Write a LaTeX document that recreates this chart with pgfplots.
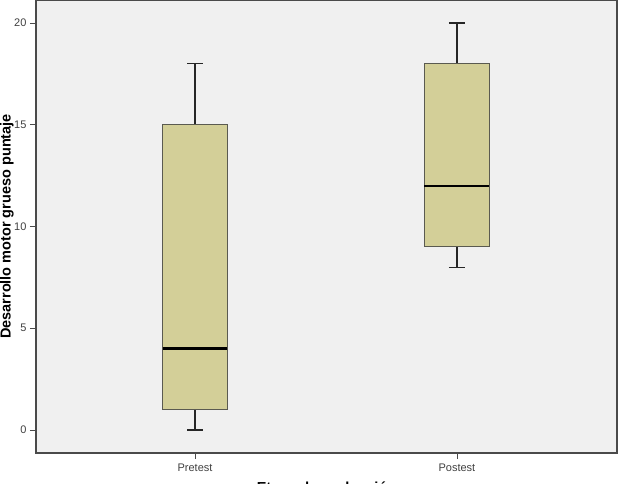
\documentclass[border=0pt]{standalone}
\usepackage{pgfplots}
\pgfplotsset{compat=1.18}
\usepgfplotslibrary{statistics}
\usepackage{fontspec}
\setmainfont{Liberation Sans}
\definecolor{bgc}{HTML}{F0F0F0}
\definecolor{boxc}{HTML}{D3CF98}
\definecolor{framec}{HTML}{4A4A4A}
\definecolor{boxedge}{HTML}{5A5A50}
\definecolor{tickc}{HTML}{404040}
\begin{document}
\begin{tikzpicture}
\path[use as bounding box, clip] (0pt,0pt) rectangle (621pt,483pt);
\begin{axis}[
  at={(36pt,30pt)}, anchor=south west,
  scale only axis, width=581pt, height=453pt,
  xmin=0.393, xmax=2.611, ymin=-1.13, ymax=21.13,
  axis background/.style={fill=bgc},
  axis line style={framec, line width=1.2pt},
  xtick={1,2}, xticklabels={Pretest,Postest},
  ytick={0,5,10,15,20},
  tick align=outside, tick pos=left,
  major tick length=6pt,
  tick style={framec, line width=0.8pt},
  ticklabel style={font=\fontsize{11}{13}\selectfont, text=tickc},
  /pgf/number format/assume math mode=true,
  xticklabel style={yshift=-1pt},
  ylabel={Desarrollo motor grueso puntaje},
  xlabel={Etapa de evaluación},
  every axis y label/.style={at={(axis description cs:-0.05,0.5)}, rotate=90, anchor=center, font=\fontsize{14.5}{17}\bfseries},
  every axis x label/.style={at={(axis description cs:0.5,-0.056)}, anchor=north, font=\fontsize{14.5}{17}\bfseries},
  boxplot/draw direction=y,
  boxplot/every box/.style={fill=boxc, draw=boxedge, line width=1pt},
  boxplot/every whisker/.style={draw=black!85, line width=1.3pt},
  boxplot/every median/.style={draw=black, line width=2.6pt},
]
\addplot[boxplot prepared={lower whisker=0, lower quartile=1, median=4, upper quartile=15, upper whisker=18, draw position=1, box extend=0.248, whisker extend=0.061}] coordinates {};
\addplot[boxplot prepared={lower whisker=8, lower quartile=9, median=12, upper quartile=18, upper whisker=20, draw position=2, box extend=0.248, whisker extend=0.061}] coordinates {};
\end{axis}
\end{tikzpicture}
\end{document}
